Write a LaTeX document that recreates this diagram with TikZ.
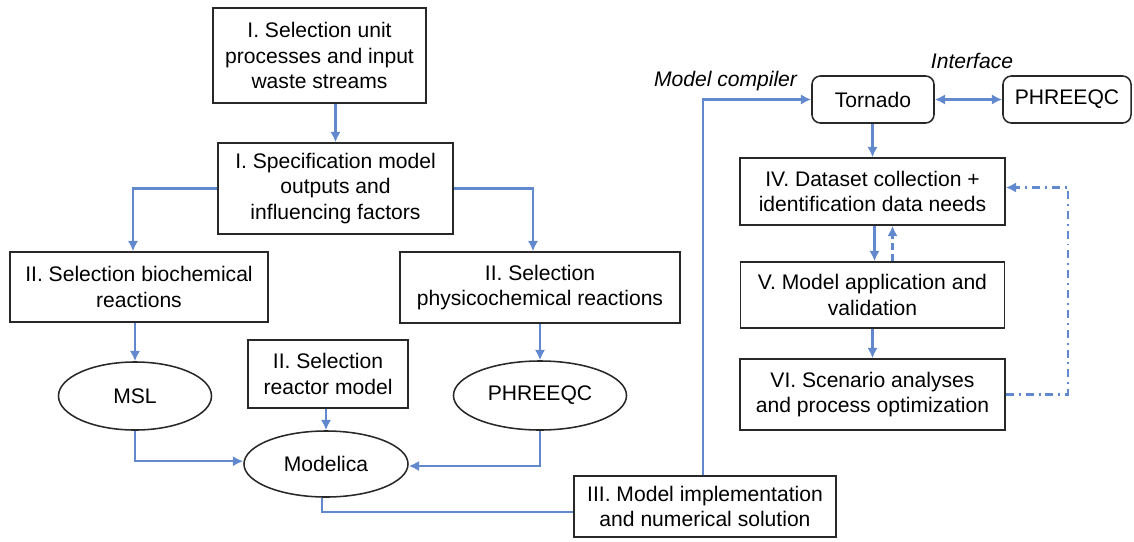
\documentclass[tikz,border=0pt]{standalone}
\usepackage{fontspec}
\setmainfont{Liberation Sans}
\usepackage{tikz}
\usepackage{xcolor}
\usetikzlibrary{
    arrows.meta,
    calc,
    shapes.geometric
}
\definecolor{FlowBlue}{RGB}{98,136,206}
\definecolor{BoxLine}{RGB}{40,40,40}
\tikzset{
  block/.style   = {draw=BoxLine, line width=1.1pt, inner sep=0pt,
                    align=center, font=\fontsize{15}{18.4}\selectfont},
  rblock/.style  = {block, rounded corners=6pt},
  oval/.style    = {draw=BoxLine, line width=1.1pt, ellipse, inner sep=0pt,
                    font=\fontsize{15}{18.4}\selectfont},
  tag/.style     = {font=\fontsize{15}{18}\selectfont\itshape},
  arr/.style     = {-{Latex[length=2.6mm,width=2.6mm]}, line width=1.6pt, FlowBlue},
  link/.style    = {line width=1.6pt, FlowBlue},
  darr/.style    = {arr, dash pattern=on 5pt off 3pt},
  loopback/.style= {arr, dash pattern=on 5.7pt off 3.5pt on 1.4pt off 3.5pt}
}

\begin{document}
\begin{tikzpicture}[x=0.025cm,y=-0.025cm]
\useasboundingbox (0,0) rectangle (1134,541);
% left part
\node[block,minimum width=5.325cm,minimum height=2.375cm] (selunit) at (319.5,55.5) {I. Selection unit\\processes and input\\waste streams};
\node[block,minimum width=5.875cm,minimum height=2.275cm] (spec) at (335.5,188.5) {I. Specification model\\outputs and\\influencing factors};
\node[block,minimum width=6.45cm,minimum height=1.75cm] (biochem) at (139,287) {II. Selection biochemical\\reactions};
\node[block,minimum width=7.0cm,minimum height=1.775cm] (physchem) at (540,287.5) {II. Selection\\physicochemical reactions};
\node[oval,minimum width=3.825cm,minimum height=1.7cm] (msl) at (135,396) {MSL};
\node[block,minimum width=4.0cm,minimum height=1.7cm] (reactor) at (328,374) {II. Selection\\reactor model};
\node[oval,minimum width=4.325cm,minimum height=1.725cm] (phreeqcL) at (540,395.5) {PHREEQC};
\node[oval,minimum width=4.1cm,minimum height=1.65cm] (modelica) at (326,464) {Modelica};
\node[block,minimum width=6.55cm,minimum height=1.525cm] (impl) at (705,506.5) {III. Model implementation\\and numerical solution};
% right part
\node[rblock,minimum width=3.05cm,minimum height=1.175cm] (tornado) at (873,99.5) {Tornado};
\node[rblock,minimum width=3.2cm,minimum height=1.175cm] (phreeqcR) at (1067,99.5) {PHREEQC};
\node[block,minimum width=6.625cm,minimum height=1.675cm] (dataset) at (872.5,191.5) {IV. Dataset collection +\\identification data needs};
\node[block,minimum width=6.6cm,minimum height=1.65cm] (valid) at (872.5,295) {V. Model application and\\validation};
\node[block,minimum width=6.625cm,minimum height=1.775cm] (scenario) at (872.5,394.5) {VI. Scenario analyses\\and process optimization};
\node[tag,anchor=east] (compiler) at (802,81) {Model compiler};
\node[tag] (iface) at (972,61) {Interface};
\coordinate (fb) at (1068,290);

\draw[arr] (spec.north |- selunit.south) -- (spec.north);
\draw[arr] (spec.west) -| ([xshift=-0.15cm]biochem.north);
\draw[arr] (spec.east) -| ([xshift=-0.175cm]physchem.north);
\draw[arr] (msl.north |- biochem.south) -- (msl.north);
\draw[arr] (phreeqcL.north |- physchem.south) -- (phreeqcL.north);
\draw[arr] (modelica.north |- reactor.south) -- (modelica.north);
\draw[arr] (msl.south) |- ([yshift=0.07cm]modelica.west);
\draw[arr] (phreeqcL.south) |- ([yshift=-0.05cm]modelica.east);
\draw[link] ([xshift=-0.1cm]modelica.south) |- ([yshift=-0.14cm]impl.west);
\draw[arr] ([xshift=-0.05cm]impl.north) |- (tornado.west);
\draw[{Latex[length=2.6mm,width=2.6mm]}-{Latex[length=2.6mm,width=2.6mm]},line width=1.6pt,FlowBlue] (tornado.east) -- (phreeqcR.west);
\draw[arr] (dataset.north |- tornado.south) -- (dataset.north);
\draw[arr] ([xshift=0.05cm]dataset.south) -- ([xshift=0.05cm]valid.north);
\draw[darr] ([xshift=0.5cm]valid.north) -- ([xshift=0.5cm]dataset.south);
\draw[arr] (valid.south) -- (scenario.north);
\draw[loopback] (scenario.east) -| (fb) |- ([yshift=0.1cm]dataset.east);
\end{tikzpicture}
\end{document}
